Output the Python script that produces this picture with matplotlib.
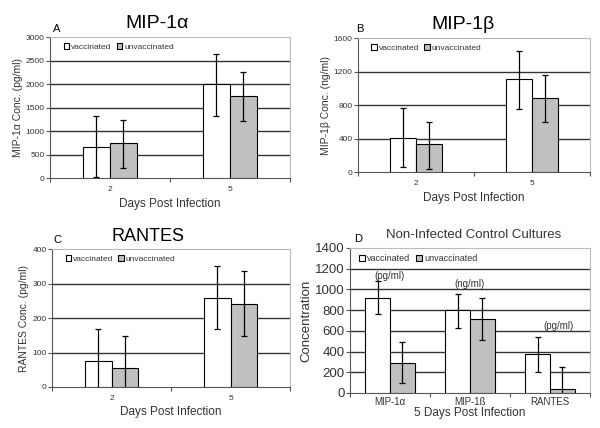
import matplotlib
matplotlib.use("Agg")
import matplotlib.pyplot as plt
import numpy as np

plt.rcParams["font.family"] = ["Liberation Sans", "DejaVu Sans"]

# --- data -------------------------------------------------------------
days = ["2", "5"]
series_names = ["vaccinated", "unvaccinated"]

mip1a_vacc = [670, 2000]
mip1a_vacc_hi = [1320, 2650]
mip1a_vacc_lo = [20, 1320]
mip1a_unvacc = [740, 1740]
mip1a_unvacc_hi = [1230, 2250]
mip1a_unvacc_lo = [210, 1220]

mip1b_vacc = [410, 1110]
mip1b_vacc_hi = [760, 1450]
mip1b_vacc_lo = [55, 750]
mip1b_unvacc = [330, 880]
mip1b_unvacc_hi = [600, 1160]
mip1b_unvacc_lo = [40, 600]

rantes_vacc = [75, 258]
rantes_vacc_hi = [168, 350]
rantes_vacc_lo = [-18, 168]
rantes_unvacc = [55, 240]
rantes_unvacc_hi = [148, 335]
rantes_unvacc_lo = [-38, 148]

control_cats = ["MIP-1\u03b1", "MIP-1\u00df", "RANTES"]
control_units = ["(pg/ml)", "(ng/ml)", "(pg/ml)"]
control_vacc = [915, 800, 375]
control_vacc_hi = [1080, 960, 540]
control_vacc_lo = [760, 630, 205]
control_unvacc = [290, 710, 40]
control_unvacc_hi = [490, 915, 255]
control_unvacc_lo = [95, 515, -175]

GRAY = "#c0c0c0"
TEXT = "#333333"


def draw_panel(ax, cats, vals, his, los, width, ymax, ystep,
               tick_size=6, legend_size=6, legend_anchor=(0.05, 0.97)):
    n = len(cats)
    x = np.arange(n)
    offsets = [-width / 2, width / 2]
    colors = ["white", GRAY]
    for k in range(2):
        v = np.array(vals[k])
        err = [v - np.array(los[k]), np.array(his[k]) - v]
        ax.bar(x + offsets[k], v, width, color=colors[k], edgecolor="black",
               linewidth=0.8, zorder=3, label=series_names[k])
        ax.errorbar(x + offsets[k], v, yerr=err, fmt="none", ecolor="black",
                    elinewidth=0.9, capsize=2.2, capthick=0.9, zorder=4)
    ax.set_xlim(-0.5, n - 0.5)
    ax.set_ylim(0, ymax)
    yt = np.arange(0, ymax + 1, ystep)
    ax.set_yticks(yt)
    # 横向网格线，最上面一条由边框代替
    for y in yt[1:-1]:
        ax.axhline(y, color=TEXT, linewidth=1.0, zorder=1)
    ax.set_xticks(np.arange(n + 1) - 0.5)
    ax.set_xticklabels([])
    ax.set_xticks(x, minor=True)
    ax.set_xticklabels(cats, minor=True)
    ax.tick_params(axis="x", which="major", direction="out", length=3,
                   color="#555555")
    ax.tick_params(axis="x", which="minor", length=0, labelsize=tick_size,
                   pad=6, colors=TEXT)
    ax.tick_params(axis="y", direction="out", length=3, labelsize=tick_size,
                   color="#555555", labelcolor=TEXT, pad=1)
    ax.spines["left"].set_color("#555555")
    ax.spines["bottom"].set_color("#555555")
    ax.spines["top"].set_color("#bbbbbb")
    ax.spines["right"].set_color("#bbbbbb")
    leg = ax.legend(loc="upper left", bbox_to_anchor=legend_anchor, ncol=2,
                    fontsize=legend_size, frameon=False, handlelength=0.7,
                    handleheight=0.7, handletextpad=0.2, columnspacing=0.6,
                    borderaxespad=0, borderpad=0.2)
    for t in leg.get_texts():
        t.set_color(TEXT)
    return x


fig = plt.figure(figsize=(6, 4.28), dpi=100)

# Panel A
axA = fig.add_axes([0.0833, 0.584, 0.4, 0.3294])
draw_panel(axA, days, [mip1a_vacc, mip1a_unvacc],
           [mip1a_vacc_hi, mip1a_unvacc_hi], [mip1a_vacc_lo, mip1a_unvacc_lo],
           0.225, 3000, 500)
axA.set_ylabel("MIP-1\u03b1 Conc. (pg/ml)", fontsize=7.5, color=TEXT,
               labelpad=2)
axA.set_xlabel("Days Post Infection", fontsize=8.5, color=TEXT, labelpad=3)
fig.text(0.262, 0.945, "MIP-1\u03b1", fontsize=14, ha="center", va="center")
fig.text(0.095, 0.933, "A", fontsize=8, ha="center", va="center")

# Panel B
axB = fig.add_axes([0.5967, 0.598, 0.3867, 0.313])
draw_panel(axB, days, [mip1b_vacc, mip1b_unvacc],
           [mip1b_vacc_hi, mip1b_unvacc_hi], [mip1b_vacc_lo, mip1b_unvacc_lo],
           0.225, 1600, 400)
axB.set_ylabel("MIP-1\u03b2 Conc. (ng/ml)", fontsize=7.5, color=TEXT,
               labelpad=2)
axB.set_xlabel("Days Post Infection", fontsize=8.5, color=TEXT, labelpad=3)
fig.text(0.772, 0.943, "MIP-1\u03b2", fontsize=14, ha="center", va="center")
fig.text(0.6, 0.932, "B", fontsize=8, ha="center", va="center")

# Panel C
axC = fig.add_axes([0.0867, 0.0958, 0.3967, 0.3224])
draw_panel(axC, days, [rantes_vacc, rantes_unvacc],
           [rantes_vacc_hi, rantes_unvacc_hi], [rantes_vacc_lo, rantes_unvacc_lo],
           0.225, 400, 100)
axC.set_ylabel("RANTES Conc. (pg/ml)", fontsize=7.5, color=TEXT,
               labelpad=2)
axC.set_xlabel("Days Post Infection", fontsize=8.5, color=TEXT, labelpad=3)
fig.text(0.246, 0.447, "RANTES", fontsize=13, ha="center", va="center")
fig.text(0.095, 0.44, "C", fontsize=8, ha="center", va="center")

# Panel D
axD = fig.add_axes([0.5833, 0.0818, 0.4, 0.3388])
xD = draw_panel(axD, control_cats, [control_vacc, control_unvacc],
                [control_vacc_hi, control_unvacc_hi],
                [control_vacc_lo, control_unvacc_lo],
                0.31, 1400, 200, legend_size=6.5, legend_anchor=(0.03, 0.97))
axD.tick_params(axis="x", which="minor", labelsize=7, pad=3)
axD.tick_params(axis="y", labelsize=9.5)
axD.set_ylabel("Concentration", fontsize=9.5, color=TEXT, labelpad=2)
axD.set_xlabel("5 Days Post Infection", fontsize=8.5, color=TEXT,
               labelpad=0)
unit_x = [xD[0], xD[1], xD[2] + 0.11]
unit_y = [1130, 1052, 647]
for ux, uy, txt in zip(unit_x, unit_y, control_units):
    axD.text(ux, uy, txt, fontsize=7, ha="center", va="center",
             color=TEXT, zorder=5)
fig.text(0.79, 0.452, "Non-Infected Control Cultures", fontsize=9.5,
         ha="center", va="center", color=TEXT)
fig.text(0.597, 0.442, "D", fontsize=8, ha="center", va="center")

fig.savefig("out.png", dpi=100)
